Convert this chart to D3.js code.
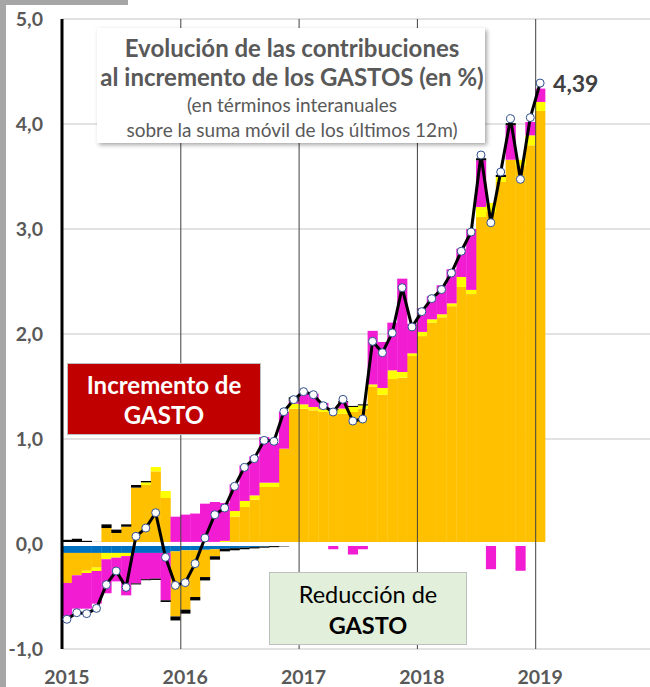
<!DOCTYPE html>
<html>
<head>
<meta charset="utf-8">
<script src="https://cdn.jsdelivr.net/npm/d3@7"></script>
<style>
  body { margin: 0; background: #fff; }
  svg { display: block; font-family: Lato, "Open Sans", sans-serif; }
</style>
</head>
<body>
<svg id="chart" width="650" height="687"></svg>
<script>
// Meses: enero 2015 - enero 2019
const meses = d3.timeMonth.range(new Date(2015, 0, 1), new Date(2019, 1, 1));
const ejeMeses = d3.timeMonth.range(new Date(2015, 0, 1), new Date(2020, 0, 1));
const anios = [2015, 2016, 2017, 2018, 2019];
const ticksY = [-1, 0, 1, 2, 3, 4, 5];

// Contribuciones (puntos porcentuales)
const azul = [-0.085, -0.085, -0.085, -0.085, -0.085, -0.085, -0.085, -0.085, -0.085, -0.085, -0.085, -0.07,
  -0.06, -0.06, -0.055, -0.05, -0.045, -0.04, -0.035, -0.03, -0.025, -0.02, -0.015, -0.005,
  0, 0, 0, 0, 0, 0, 0, 0, 0, 0, 0, 0,
  0, 0, 0, 0, 0, 0, 0, 0, 0, 0, 0, 0,
  0];
const naranja = [-0.286, -0.213, -0.17, -0.14, 0.152, 0.105, 0.165, 0.537, 0.562, 0.692, 0.438, -0.62,
  -0.565, -0.445, -0.26, -0.067, 0, 0.26, 0.352, 0.422, 0.543, 0.543, 0.908, 1.289,
  1.289, 1.273, 1.257, 1.241, 1.24, 1.257, 1.289, 1.5, 1.422, 1.571, 1.584, 1.79,
  1.98, 2.108, 2.159, 2.265, 2.448, 2.38, 3.114, 3.162, 3.448, 3.66, 3.606, 3.797,
  4.124];
const amarillo = [0, 0, -0.021, -0.032, -0.06, -0.045, -0.03, 0, 0.025, 0.041, 0.067, 0.02,
  0.02, 0.02, 0.02, 0.02, 0.03, 0.054, 0.058, 0.041, 0.041, 0.041, 0, 0.048,
  0.041, 0.032, 0.032, 0.032, 0.05, 0.048, 0.031, 0.02, 0.064, 0.083, 0.054, 0.026,
  0.04, 0.032, 0.029, 0.027, 0.095, 0.04, 0.096, 0.086, 0.047, 0, 0.054, 0.095,
  0.086];
const magenta = [-0.315, -0.318, -0.34, -0.311, -0.324, -0.226, -0.374, -0.29, -0.25, -0.245, -0.451, 0.24,
  0.26, 0.27, 0.364, 0.38, 0.36, 0.254, 0.339, 0.372, 0.435, 0.378, 0.349, 0.02,
  0.108, 0.127, 0.054, -0.05, 0.06, -0.1, -0.05, 0.51, 0.438, 0.454, 0.889, 0.282,
  0.225, 0.219, 0.276, 0.324, 0.27, 0.58, 0.444, -0.24, 0, 0.328, -0.255, 0.127,
  0.127];
const negroSube = [0.04, 0.05, 0.03, 0.02, 0.035, 0.032, 0.022, 0.025, 0.013, 0, 0, 0,
  0, 0, 0, 0, 0, 0, 0, 0, 0, 0, 0, 0.04,
  0, 0, 0, 0.01, 0.01, 0.01, 0.01, 0, 0, 0, 0, 0,
  0, 0, 0, 0, 0, 0, 0.02, 0, 0.02, 0.02, 0, 0,
  0];
const negroBaja = [0, 0, 0, 0, 0, 0, 0, -0.01, -0.01, -0.012, -0.016, -0.038,
  -0.038, -0.032, -0.032, -0.032, -0.025, -0.02, -0.015, -0.012, -0.01, -0.01, -0.008, -0.005,
  0, 0, 0, 0, 0, 0, 0, 0, 0, 0, 0, 0,
  0, 0, 0, 0, 0, 0, 0, 0, 0, 0, 0, 0,
  0];
// Variación total del gasto
const total = [-0.717, -0.654, -0.663, -0.613, -0.387, -0.257, -0.413, 0.073, 0.152, 0.298, -0.127, -0.394,
  -0.368, -0.187, 0.057, 0.279, 0.343, 0.549, 0.73, 0.813, 0.987, 0.978, 1.26, 1.375,
  1.451, 1.422, 1.317, 1.257, 1.378, 1.171, 1.19, 1.93, 1.822, 2.01, 2.441, 2.067,
  2.213, 2.337, 2.423, 2.581, 2.788, 2.971, 3.705, 3.06, 3.543, 4.051, 3.473, 4.061,
  4.39];

const series = ["azul", "naranja", "amarillo", "magenta", "negroSube", "negroBaja"];
const colores = {
  azul: "#0070C0", naranja: "#FFC000", amarillo: "#FFFF00",
  magenta: "#F21DD3", negroSube: "#000000", negroBaja: "#000000"
};

const tabla = meses.map((m, i) => ({
  mes: m, azul: azul[i], naranja: naranja[i], amarillo: amarillo[i],
  magenta: magenta[i], negroSube: negroSube[i], negroBaja: negroBaja[i], total: total[i]
}));

const svg = d3.select("#chart");
const gris = "#595959";

// formato con coma decimal y guion normal
const fmt = dec => v => d3.format("." + dec + "f")(v).replace(".", ",").replace("\u2212", "-");

// marco gris del recorte
svg.append("rect").attr("x", 0).attr("y", 0).attr("width", 6).attr("height", 687).attr("fill", "#A6A6A6");
svg.append("rect").attr("x", 0).attr("y", 0).attr("width", 128).attr("height", 5).attr("fill", "#A6A6A6");

const x = d3.scaleBand()
  .domain(ejeMeses.map(d => +d))
  .range([62, 653.5])
  .padding(0);

const y = d3.scaleLinear()
  .domain([-1, 5])
  .range([649, 19]);

// rejilla horizontal
svg.append("g")
  .selectAll("line")
  .data(ticksY)
  .join("line")
  .attr("x1", 62).attr("x2", 650)
  .attr("y1", d => y(d)).attr("y2", d => y(d))
  .attr("stroke", "#D9D9D9")
  .attr("stroke-width", 1.5);

// barras apiladas
let stack = d3.stack()
  .keys(series)
  .offset(d3.stackOffsetDiverging);

let capas = svg.append("g")
  .selectAll("g")
  .data(stack(tabla))
  .join("g")
  .attr("fill", d => colores[d.key]);

capas.selectAll("rect")
  .data(d => d)
  .join("rect")
  .attr("x", d => x(+d.data.mes))
  .attr("width", x.bandwidth() + 0.3)
  .attr("y", d => y(Math.max(d[0], d[1])))
  .attr("height", d => Math.abs(y(d[0]) - y(d[1])));

// línea del cero
svg.append("line")
  .attr("x1", 62).attr("x2", 650)
  .attr("y1", y(0)).attr("y2", y(0))
  .attr("stroke", "#fff")
  .attr("stroke-width", 4);

// líneas de año
svg.append("g")
  .selectAll("line")
  .data(anios.slice(1))
  .join("line")
  .attr("x1", d => x(+new Date(d, 0, 1)) + 0.5)
  .attr("x2", d => x(+new Date(d, 0, 1)) + 0.5)
  .attr("y1", y(5)).attr("y2", y(-1))
  .attr("stroke", "#404040")
  .attr("stroke-width", 1);

// eje izquierdo
svg.append("line")
  .attr("x1", 62).attr("x2", 62)
  .attr("y1", y(5)).attr("y2", y(-1))
  .attr("stroke", "#000")
  .attr("stroke-width", 3);

// etiquetas eje Y
svg.append("g")
  .selectAll("text")
  .data(ticksY)
  .join("text")
  .attr("x", 43)
  .attr("y", d => y(d) + 6.5)
  .attr("text-anchor", "end")
  .attr("font-size", 19.5)
  .attr("font-weight", "bold")
  .attr("fill", gris)
  .text(fmt(1));

// etiquetas eje X
svg.append("g")
  .selectAll("text")
  .data(anios)
  .join("text")
  .attr("x", d => x(+new Date(d, 0, 1)) + x.bandwidth() / 2)
  .attr("y", 684)
  .attr("text-anchor", "middle")
  .attr("font-size", 19.5)
  .attr("font-weight", "bold")
  .attr("fill", gris)
  .text(d => d);

// línea total
let linea = d3.line()
  .x(d => x(+d.mes) + x.bandwidth() / 2)
  .y(d => y(d.total));

svg.append("path")
  .datum(tabla)
  .attr("d", linea)
  .attr("fill", "none")
  .attr("stroke", "#000")
  .attr("stroke-width", 3)
  .attr("stroke-linejoin", "round");

svg.append("g")
  .selectAll("circle")
  .data(tabla)
  .join("circle")
  .attr("cx", d => x(+d.mes) + x.bandwidth() / 2)
  .attr("cy", d => y(d.total))
  .attr("r", 4)
  .attr("fill", "#fff")
  .attr("stroke", "#2F4F8F")
  .attr("stroke-width", 1);

// último valor
let ultimo = tabla[tabla.length - 1];
svg.append("text")
  .attr("x", x(+ultimo.mes) + x.bandwidth() + 8)
  .attr("y", y(ultimo.total) + 9)
  .attr("font-size", 23)
  .attr("font-weight", "bold")
  .attr("fill", "#404040")
  .text(fmt(2)(ultimo.total));

// cuadro título
let defs = svg.append("defs");
defs.append("filter").attr("id", "sombra")
  .attr("x", "-5%").attr("y", "-5%").attr("width", "115%").attr("height", "120%")
  .append("feDropShadow")
  .attr("dx", 2).attr("dy", 2).attr("stdDeviation", 2)
  .attr("flood-color", "#000").attr("flood-opacity", 0.35);

svg.append("rect")
  .attr("x", 97).attr("y", 28).attr("width", 388).attr("height", 115)
  .attr("fill", "#fff")
  .attr("filter", "url(#sombra)");

const titulo = [
  { t: "Evolución de las contribuciones", y: 57, s: 24, w: "bold" },
  { t: "al incremento de los GASTOS (en %)", y: 86, s: 24, w: "bold" },
  { t: "(en términos interanuales", y: 112, s: 19, w: "normal" },
  { t: "sobre la suma móvil de los últimos 12m)", y: 137, s: 19, w: "normal" }
];
svg.append("g")
  .selectAll("text")
  .data(titulo)
  .join("text")
  .attr("x", 292)
  .attr("y", d => d.y)
  .attr("text-anchor", "middle")
  .attr("font-size", d => d.s)
  .attr("font-weight", d => d.w)
  .attr("fill", gris)
  .text(d => d.t);

// cuadro incremento
svg.append("rect")
  .attr("x", 67.5).attr("y", 363.5).attr("width", 193).attr("height", 71)
  .attr("fill", "#C00000")
  .attr("stroke", "#BFBFBF")
  .attr("stroke-width", 1);
svg.append("text").attr("x", 164).attr("y", 394)
  .attr("text-anchor", "middle").attr("font-size", 24).attr("font-weight", "bold")
  .attr("fill", "#fff").text("Incremento de");
svg.append("text").attr("x", 164).attr("y", 424)
  .attr("text-anchor", "middle").attr("font-size", 24).attr("font-weight", "bold")
  .attr("fill", "#fff").text("GASTO");

// cuadro reducción
svg.append("rect")
  .attr("x", 269.5).attr("y", 572.5).attr("width", 197).attr("height", 72)
  .attr("fill", "#E2EFDA")
  .attr("stroke", "#BFBFBF")
  .attr("stroke-width", 1);
svg.append("text").attr("x", 368).attr("y", 603)
  .attr("text-anchor", "middle").attr("font-size", 23.5)
  .attr("fill", "#000").text("Reducción de");
svg.append("text").attr("x", 368).attr("y", 634)
  .attr("text-anchor", "middle").attr("font-size", 23.5).attr("font-weight", "bold")
  .attr("fill", "#000").text("GASTO");
</script>
</body>
</html>
